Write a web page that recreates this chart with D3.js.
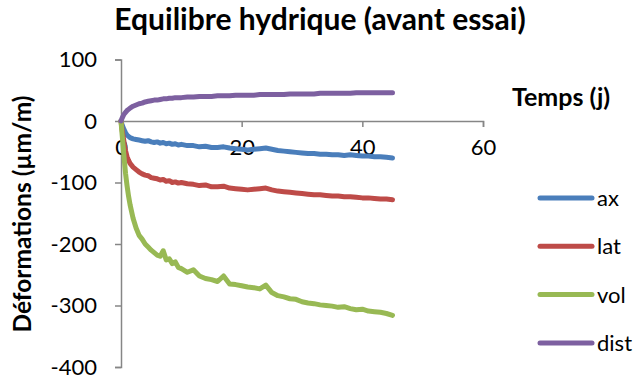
<!DOCTYPE html>
<html>
<head>
<meta charset="utf-8">
<script src="https://cdn.jsdelivr.net/npm/d3@7"></script>
<style>
  html, body { margin: 0; padding: 0; background: #fff; }
  svg { display: block; font-family: Lato, "Open Sans", sans-serif; }
</style>
</head>
<body>
<svg id="chart" width="644" height="383"></svg>
<script>
const titleText = "Equilibre hydrique (avant essai)";
const xTitle = "Temps (j)";
const yTitle = "Déformations (µm/m)";
const xTicks = [0, 20, 40, 60];
const yTicks = [100, 0, -100, -200, -300, -400];
const seriesNames = ["ax", "lat", "vol", "dist"];
const seriesColors = ["#4A7EBB", "#BE4B48", "#98B954", "#7D60A0"];

const times = [0,0.15,0.3,0.5,0.75,1,1.25,1.5,2,2.5,3,3.5,4,4.5,5,5.5,6,6.5,7,7.5,8,8.5,9,9.5,10,
  11,12,13,14,15,16,17,18,19,20,21,22,23,24,25,26,27,28,29,30,31,32,33,34,35,36,37,38,39,40,41,42,43,44,45];

const ax = [0,-5,-9,-14,-19,-23,-25,-27,-29,-30,-31,-32,-33,-32,-34,-35,-34,-36,-35,-37,-36,-38,-37,-39,-38,
  -40,-40,-42,-41,-43,-43,-42,-44,-45,-46,-47,-46,-45,-44,-46,-48,-49,-50,-51,-52,-53,-53,-54,-54,-55,-55,-56,-55,-56,-57,-57,-58,-58,-59,-60];

const lat = [0,-12,-22,-34,-48,-58,-64,-69,-75,-79,-83,-86,-88,-89,-92,-93,-94,-96,-95,-98,-97,-100,-99,-101,-100,
  -102,-103,-105,-104,-107,-107,-106,-109,-110,-111,-112,-111,-110,-109,-112,-114,-115,-116,-117,-118,-119,-120,-120,-121,-122,-122,-123,-123,-124,-125,-125,-126,-127,-127,-128];

const vol = [0,-18,-35,-58,-85,-105,-122,-136,-158,-174,-186,-192,-200,-205,-210,-214,-218,-220,-211,-226,-224,-232,-229,-238,-240,
  -246,-242,-252,-256,-258,-261,-252,-265,-266,-268,-270,-271,-273,-267,-279,-284,-286,-289,-290,-294,-296,-297,-299,-300,-301,-303,-302,-305,-307,-306,-309,-310,-311,-313,-316];

const dist = [0,4,7,11,14,17,19,21,24,26,28,29,31,32,33,34,34,35,36,36,37,37,38,38,38,
  39,39,40,40,40,41,41,41,42,42,42,42,43,43,43,43,43,44,44,44,44,44,45,45,45,45,45,45,46,46,46,46,46,46,46];

const seriesValues = [ax, lat, vol, dist];

const svg = d3.select("#chart");
const axisColor = "#868686";

const x = d3.scaleLinear().domain([0, 60]).range([121, 483]);
const y = d3.scaleLinear().domain([-400, 100]).range([367, 59.5]);

// Title
svg.append("text")
  .attr("x", 320).attr("y", 30)
  .attr("text-anchor", "middle")
  .attr("font-weight", "bold").attr("font-size", 30)
  .attr("fill", "#000")
  .text(titleText);

// Y axis
const yAxis = d3.axisLeft(y).tickValues(yTicks).tickSize(6).tickPadding(18).tickFormat(d3.format("d"));
const gy = svg.append("g").attr("transform", `translate(${x(0)},0)`).call(yAxis);
gy.select(".domain").attr("stroke", axisColor).attr("stroke-width", 1.5);
gy.selectAll(".tick line").attr("stroke", axisColor).attr("stroke-width", 1.5);
gy.selectAll(".tick text").attr("font-size", 22).attr("font-family", "Lato").attr("fill", "#000")
  .text(d => d < 0 ? "-" + Math.abs(d) : d);

// X axis at y=0
const xAxis = d3.axisBottom(x).tickValues(xTicks).tickSize(6).tickPadding(12).tickFormat(d3.format("d"));
const gx = svg.append("g").attr("transform", `translate(0,${y(0)})`).call(xAxis);
gx.select(".domain").attr("stroke", axisColor).attr("stroke-width", 1.5);
gx.selectAll(".tick line").attr("stroke", axisColor).attr("stroke-width", 1.5);
gx.selectAll(".tick text").attr("font-size", 22).attr("font-family", "Lato").attr("fill", "#000");

// Axis titles
svg.append("text")
  .attr("x", 512).attr("y", 106)
  .attr("font-weight", "bold").attr("font-size", 25)
  .text(xTitle);

svg.append("text")
  .attr("transform", "translate(31,214) rotate(-90)")
  .attr("text-anchor", "middle")
  .attr("font-weight", "bold").attr("font-size", 24.5)
  .text(yTitle);

// Lines
const line = d3.line().x((d, i) => x(times[i])).y(d => y(d)).curve(d3.curveLinear);
[0, 1, 2, 3].forEach(k => {
  svg.append("path")
    .datum(seriesValues[k])
    .attr("d", line)
    .attr("fill", "none")
    .attr("stroke", seriesColors[k])
    .attr("stroke-width", 5)
    .attr("stroke-linejoin", "round")
    .attr("stroke-linecap", "round");
});

// Legend
const legend = svg.append("g");
seriesNames.forEach((name, i) => {
  const ly = 198 + i * 48.3;
  legend.append("line")
    .attr("x1", 540).attr("x2", 592)
    .attr("y1", ly).attr("y2", ly)
    .attr("stroke", seriesColors[i]).attr("stroke-width", 5)
    .attr("stroke-linecap", "round");
  legend.append("text")
    .attr("x", 597).attr("y", ly + 8)
    .attr("font-size", 22)
    .text(name);
});
</script>
</body>
</html>
